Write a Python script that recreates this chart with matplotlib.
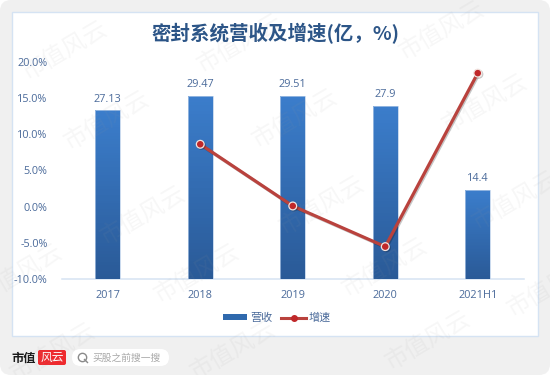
#!/usr/bin/env python3
import numpy as np
import matplotlib
matplotlib.use("Agg")
import matplotlib.pyplot as plt
import matplotlib.patheffects as pe
from matplotlib.patches import FancyBboxPatch, Rectangle, Patch
from matplotlib.lines import Line2D

plt.rcParams['font.family'] = ['Noto Sans CJK SC', 'DejaVu Sans']

years = ['2017', '2018', '2019', '2020', '2021H1']
revenue = [27.13, 29.47, 29.51, 27.9, 14.4]
revenue_labels = ['27.13', '29.47', '29.51', '27.9', '14.4']
growth = [np.nan, 8.6, 0.1, -5.5, 18.4]
pct_ticks = [-10, -5, 0, 5, 10, 15, 20]

TEXT = '#4a6a9a'
W, H = 550, 375

fig = plt.figure(figsize=(5.5, 3.75), dpi=100, facecolor='white')

# whole image as a pixel canvas, y pointing down
bg = fig.add_axes([0, 0, 1, 1], zorder=0)
bg.set_xlim(0, W)
bg.set_ylim(H, 0)
bg.axis('off')
bg.add_patch(FancyBboxPatch((0, 0), W, H, boxstyle='round,pad=0,rounding_size=11',
                            fc='#f0f0f0', ec='none'))
bg.add_patch(Rectangle((11.5, 11.5), 526, 324.5, fc='white', ec='#d5e3f3', lw=1))

# plot area: 20% at y=61.5, -10% at y=279.3
ax = fig.add_axes([61.5 / W, 1 - 279.3 / H, 462.5 / W, 217.8 / H], zorder=1)
ax.patch.set_alpha(0)
x = np.arange(len(years))
bars = ax.bar(x, revenue, width=0.273, color='none', edgecolor='none', zorder=2)

cmap = matplotlib.colors.LinearSegmentedColormap.from_list('bar', ['#2a5a97', '#3b7dcb'])
for b in bars:
    # bottom to top shading of each bar
    edges = np.linspace(0, b.get_height(), 61)
    shade = np.linspace(0, 1, 60).reshape(-1, 1)
    ax.pcolormesh([b.get_x(), b.get_x() + b.get_width()], edges, shade, cmap=cmap,
                  vmin=0, vmax=1, zorder=3, antialiased=False, linewidth=0)
    ax.add_patch(Rectangle((b.get_x(), 0), b.get_width(), b.get_height(), fc='none',
                           ec='#b4cbe8', lw=0.5, zorder=4))
ax.set_xlim(-0.5, 4.5)
ax.set_ylim(0, 35)

for xi, v, lab in zip(x, revenue, revenue_labels):
    ax.annotate(lab, (xi, v), xytext=(0, 8.2), textcoords='offset points', ha='center',
                va='center', fontsize=7.8, color=TEXT, family='Open Sans', zorder=6)

ax.set_xticks(x)
ax.set_xticklabels(years, fontsize=7.8, color=TEXT, family='Open Sans')
ax.tick_params(axis='x', length=0, pad=8)
ax.set_yticks([])
for s in ['top', 'left', 'right']:
    ax.spines[s].set_visible(False)
ax.spines['bottom'].set_color('#d6e3f2')
ax.spines['bottom'].set_linewidth(1.1)

ax2 = ax.twinx()
ax2.set_ylim(-10, 20)
ax2.yaxis.tick_left()
ax2.set_yticks(pct_ticks)
ax2.set_yticklabels([f'{t:.1f}%' for t in pct_ticks], fontsize=7.8, color=TEXT, family='Open Sans')
ax2.tick_params(axis='y', length=0, pad=10)
for s in ax2.spines.values():
    s.set_visible(False)
ax2.plot(x, growth, color='#b9423d', lw=2.3, marker='o', ms=5.6, mfc='#c0282a', mec='#f1e4e0',
         mew=0.9, zorder=5, solid_capstyle='round',
         path_effects=[pe.SimpleLineShadow(offset=(0.8, -0.8), alpha=0.22), pe.Normal()])

bg.text(275, 33.5, '密封系统营收及增速(亿，%)', ha='center', va='center', fontsize=14,
        color='#2c5587', fontweight='bold')

handles = [Patch(fc='#2f69ad', ec='none'),
           Line2D([], [], color='#b9423d', lw=2.2, marker='o', ms=4, mfc='#c0282a', mec='#c0282a')]
top = fig.add_axes([0, 0, 1, 1], zorder=3)
top.set_xlim(0, W)
top.set_ylim(H, 0)
top.axis('off')
top.patch.set_alpha(0)
leg = top.legend(handles, ['营收', '增速'], ncol=2, frameon=False, fontsize=8,
                 labelcolor=TEXT, loc='center', bbox_to_anchor=(277 / W, 1 - 318 / H),
                 handlelength=2.2, handleheight=0.5, handletextpad=0.26, columnspacing=0.8)

# footer
top.text(11, 358, '市值', fontsize=8.8, fontweight='bold', color='#1a1a1a', va='center', ha='left')
top.add_patch(FancyBboxPatch((38, 350), 28, 15, boxstyle='round,pad=0,rounding_size=2',
                             fc='#ee2a2e', ec='none'))
top.text(52, 357.5, '风云', fontsize=8.5, color='white', va='center', ha='center')
top.add_patch(FancyBboxPatch((72, 349), 97, 17, boxstyle='round,pad=0,rounding_size=8.5',
                             fc='white', ec='none'))
top.plot([82], [357], marker='o', ms=6, mfc='none', mec='#8a8a8a', mew=1)
top.plot([84.5, 87.5], [359.5, 362.5], color='#8a8a8a', lw=1)
top.text(92, 357.5, '买股之前搜一搜', fontsize=7, color='#a8a8a8', va='center', ha='left')

# watermarks
marks_x = [65, 240, 442, 107, 295, 485, 143, 322, 515, 20, 197, 385, 550, 53, 233, 428]
marks_y = [50, 43, 30, 120, 118, 103, 215, 205, 200, 273, 273, 267, 287, 352, 350, 340]
for mx, my in zip(marks_x, marks_y):
    top.text(mx, my, '市值风云', fontsize=17, color='#9a9a9a', alpha=0.08, rotation=30.5,
             ha='center', va='center', rotation_mode='anchor', clip_on=True)

fig.savefig('out.png', dpi=100, facecolor=fig.get_facecolor())
